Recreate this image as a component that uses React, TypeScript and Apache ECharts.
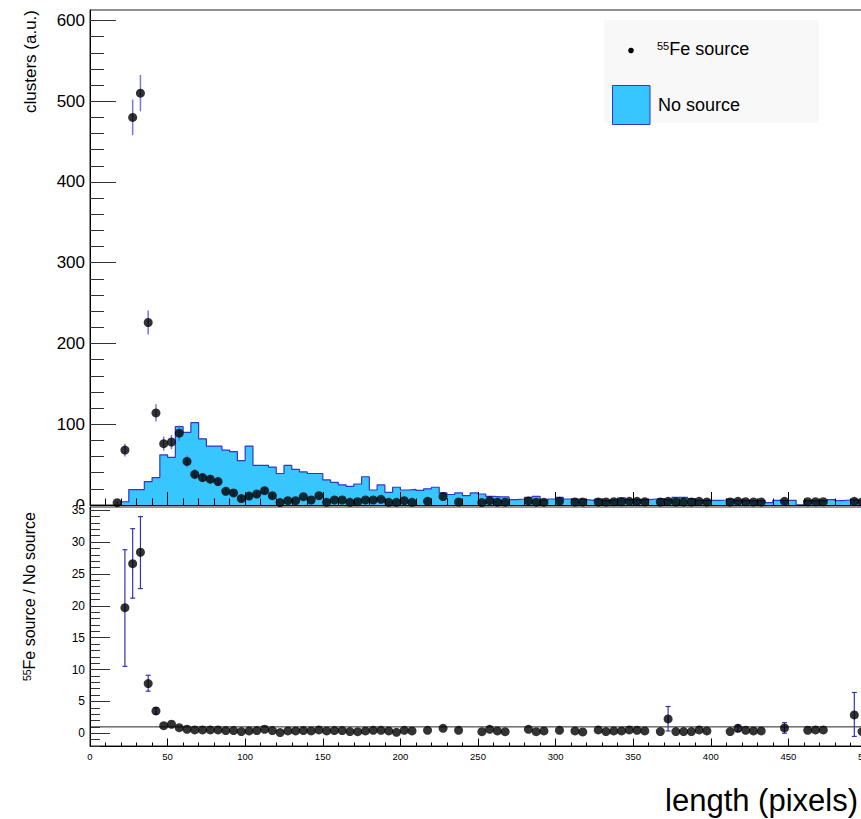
import React, { useEffect, useRef } from 'react';
import * as echarts from 'echarts';

// ---------------- data ----------------
// "No source" histogram: bins of width 5, first bin starts at 20
const histFirstEdge = 20;
const histBinWidth = 5;
const noSourceCounts = [
  4, 19, 19, 29, 34, 62, 59, 97, 90, 102, 82, 73, 73, 68, 66, 55, 73, 49, 49, 47,
  39, 49, 44, 41, 39, 39, 31, 28, 25, 23, 26, 35, 18.6, 24.8, 15.7, 22, 18.6, 19.4, 18, 20,
  22, 15, 13, 15, 11.5, 15, 13.6, 10.7, 10, 10, 6.6, 7.4, 9.4, 10.7, 5.8, 7.4, 9.4, 7.4, 7.4, 6.6,
  5.8, 7.4, 5.8, 6.6, 8.7, 6.6, 6.6, 6.6, 7.4, 7.8, 6.6, 9.5, 9.5, 7.8, 5.8, 5.8, 5.8, 6.2, 7.4, 5.8,
  5.4, 5.4, 5.4, 2.9, 5.8, 5.8, 5.8, 0, 5.4, 5.4, 5.4, 6.6, 5.4, 6.2, 6.6, 5.4,
];

// "55Fe source" points (bin centres and contents)
const fePointX = [
  17.5, 22.5, 27.5, 32.5, 37.5, 42.5, 47.5, 52.5, 57.5, 62.5, 67.5, 72.5, 77.5, 82.5, 87.5, 92.5,
  97.5, 102.5, 107.5, 112.5, 117.5, 122.5, 127.5, 132.5, 137.5, 142.5, 147.5, 152.5, 157.5, 162.5,
  167.5, 172.5, 177.5, 182.5, 187.5, 192.5, 197.5, 202.5, 207.5, 217.5, 227.5, 237.5, 252.5, 257.5,
  262.5, 267.5, 282.5, 287.5, 292.5, 302.5, 312.5, 317.5, 327.5, 332.5, 337.5, 342.5, 347.5, 352.5,
  357.5, 367.5, 372.5, 377.5, 382.5, 387.5, 392.5, 397.5, 412.5, 417.5, 422.5, 427.5, 432.5, 447.5,
  462.5, 467.5, 472.5, 492.5, 497.5,
];
const fePointY = [
  2.9, 68, 480, 510, 226, 114, 76, 78, 89, 54, 38, 34, 32, 29, 17, 15, 8, 11, 13.6, 17.7,
  11.5, 3, 5.4, 5.4, 10.3, 6.2, 11.6, 3.3, 6.2, 6.2, 3.3, 4.1, 6.2, 6.2, 7, 3.3, 3.3, 5.4, 3.3,
  4.5, 10.5, 3.7, 3, 5.4, 3.5, 3.5, 5, 3.5, 3.5, 4.5, 3.7, 3.7, 3.7, 3.7, 4, 4, 4.5, 4.5, 4,
  3.7, 4.5, 3.7, 3.7, 3.7, 4.5, 3.7, 3.7, 4.5, 4, 3.7, 3.7, 4.5, 4, 4, 4, 4.5, 3.7,
];
// error half-widths of the first points (further ones are hidden by the markers)
const feErr = [
  1.7, 8, 22, 22.5, 15, 10.7, 8.7, 8.8, 9.4, 7.3, 6.2, 5.8, 5.7, 5.4, 4.1, 3.9, 2.8, 3.3, 3.7, 4.2, 3.4,
];

// ratio "55Fe source / No source"
const ratioX = [
  22.5, 27.5, 32.5, 37.5, 42.5, 47.5, 52.5, 57.5, 62.5, 67.5, 72.5, 77.5, 82.5, 87.5, 92.5,
  97.5, 102.5, 107.5, 112.5, 117.5, 122.5, 127.5, 132.5, 137.5, 142.5, 147.5, 152.5, 157.5, 162.5,
  167.5, 172.5, 177.5, 182.5, 187.5, 192.5, 197.5, 202.5, 207.5, 217.5, 227.5, 237.5, 252.5, 257.5,
  262.5, 267.5, 282.5, 287.5, 292.5, 302.5, 312.5, 317.5, 327.5, 332.5, 337.5, 342.5, 347.5, 352.5,
  357.5, 367.5, 372.5, 377.5, 382.5, 387.5, 392.5, 397.5, 412.5, 417.5, 422.5, 427.5, 432.5, 447.5,
  462.5, 467.5, 472.5, 492.5, 497.5,
];
const ratioY = [
  19.7, 26.6, 28.4, 7.8, 3.5, 1.19, 1.41, 0.88, 0.63, 0.52, 0.52, 0.52, 0.52, 0.42, 0.42,
  0.26, 0.36, 0.42, 0.63, 0.42, 0.1, 0.36, 0.36, 0.42, 0.36, 0.52, 0.36, 0.42, 0.42,
  0.26, 0.25, 0.36, 0.46, 0.46, 0.36, 0.15, 0.46, 0.36, 0.46, 0.77, 0.46, 0.25, 0.62,
  0.36, 0.25, 0.62, 0.25, 0.36, 0.46, 0.36, 0.21, 0.52, 0.26, 0.36, 0.36, 0.52, 0.47,
  0.36, 0.26, 2.24, 0.26, 0.26, 0.26, 0.52, 0.36, 0.26, 0.78, 0.47, 0.36, 0.36, 0.83,
  0.47, 0.52, 0.52, 2.87, 0.26,
];
// visible ratio error bars
const ratioErrX = [22.5, 27.5, 32.5, 37.5, 42.5, 372.5, 417.5, 447.5, 492.5];
const ratioErrLow = [10.5, 21.2, 22.7, 6.6, 3.0, 0.36, 0.28, 0.0, -0.5];
const ratioErrHigh = [28.8, 32.1, 34.0, 9.1, 4.0, 4.2, 1.3, 1.66, 6.4];

// tick labels
const xTickLabels = [0, 50, 100, 150, 200, 250, 300, 350, 400, 450, 500];
const topYTickLabels = [0, 100, 200, 300, 400, 500, 600];
const ratioYTickLabels = [0, 5, 10, 15, 20, 25, 30, 35];

// ---------------- styles ----------------
const FONT = '"Liberation Sans", Arial, Helvetica, sans-serif';
const FILL = '#37c6fd';
const EDGE = '#3535c8';

export default function App() {
  const ref = useRef<HTMLDivElement>(null);

  useEffect(() => {
    if (!ref.current) return;
    const chart = echarts.init(ref.current, undefined, { renderer: 'svg' });

    const histLine: number[][] = [[histFirstEdge, 0]];
    noSourceCounts.forEach((v, i) => histLine.push([histFirstEdge + i * histBinWidth, v]));
    histLine.push([
      histFirstEdge + noSourceCounts.length * histBinWidth,
      noSourceCounts[noSourceCounts.length - 1],
    ]);

    const fePoints = fePointX.map((x, i) => [x, fePointY[i]]);
    const feErrData = feErr.map((e, i) => [fePointX[i], fePointY[i] - e, fePointY[i] + e]);
    const ratioPoints = ratioX.map((x, i) => [x, ratioY[i]]);
    const ratioErrData = ratioErrX.map((x, i) => [x, ratioErrLow[i], ratioErrHigh[i]]);

    const topMinor: number[] = [];
    for (let v = 20; v <= 600; v += 20) if (v % 100 !== 0) topMinor.push(v);
    const botMinor: number[] = [];
    for (let v = -2; v <= 35; v += 1) if (v % 5 !== 0) botMinor.push(v);

    const errRender = (cap: number, color: string, width: number) => (params: any, api: any) => {
      const x = api.value(0);
      const a = api.coord([x, api.value(1)]);
      const b = api.coord([x, api.value(2)]);
      const st = { stroke: color, lineWidth: width };
      const children: any[] = [
        { type: 'line', shape: { x1: a[0], y1: a[1], x2: b[0], y2: b[1] }, style: st },
      ];
      if (cap > 0) {
        children.push({ type: 'line', shape: { x1: a[0] - cap, y1: a[1], x2: a[0] + cap, y2: a[1] }, style: st });
        children.push({ type: 'line', shape: { x1: b[0] - cap, y1: b[1], x2: b[0] + cap, y2: b[1] }, style: st });
      }
      return { type: 'group', children };
    };

    const gTop = { left: 90, right: -36, top: 10, height: 495 };
    const gBot = { left: 90, right: -36, top: 507, height: 239 };
    const xBase = { type: 'value', min: 0, max: 520 };

    const option: any = {
      animation: false,
      textStyle: { fontFamily: FONT, color: '#000' },
      grid: [
        { ...gTop, show: true, borderColor: '#222', borderWidth: 1, backgroundColor: 'transparent', outerBoundsMode: 'none' },
        { ...gBot, show: true, borderColor: '#222', borderWidth: 1, backgroundColor: 'transparent', outerBoundsMode: 'none' },
        { ...gTop, show: false, outerBoundsMode: 'none' },
        { ...gBot, show: false, outerBoundsMode: 'none' },
      ],
      xAxis: [
        {
          ...xBase, gridIndex: 0, interval: 50, z: 10,
          axisLine: { show: true, onZero: false, lineStyle: { color: '#000', width: 1 } },
          axisTick: { show: true, inside: true, length: 13, lineStyle: { color: '#000', width: 1 } },
          minorTick: { show: true, splitNumber: 5, length: 6.5, lineStyle: { color: '#000', width: 1 } },
          axisLabel: { show: false },
          splitLine: { show: false },
          minorSplitLine: { show: false },
        },
        {
          ...xBase, gridIndex: 1, interval: 50, z: 10,
          axisLine: { show: true, onZero: false, lineStyle: { color: '#000', width: 1 } },
          axisTick: { show: true, inside: true, length: 7.5, lineStyle: { color: '#000', width: 1 } },
          minorTick: { show: true, splitNumber: 5, length: 3.5, lineStyle: { color: '#000', width: 1 } },
          axisLabel: {
            show: true, customValues: xTickLabels, fontSize: 9.5, margin: 5, color: '#000', fontFamily: FONT,
          },
          splitLine: { show: false },
          minorSplitLine: { show: false },
        },
        { ...xBase, gridIndex: 2, show: false },
        { ...xBase, gridIndex: 3, show: false },
      ],
      yAxis: [
        {
          type: 'value', gridIndex: 0, min: 0, max: 613, z: 1,
          axisLine: { show: true, onZero: false, lineStyle: { color: '#000', width: 1 } },
          axisTick: { show: true, inside: true, length: 26, customValues: topYTickLabels, lineStyle: { color: '#333', width: 1 } },
          axisLabel: { show: true, customValues: topYTickLabels, fontSize: 17, margin: 5, color: '#000', fontFamily: FONT },
          splitLine: { show: false },
        },
        {
          type: 'value', gridIndex: 1, min: -2, max: 35.5, z: 12,
          axisLine: { show: true, onZero: false, lineStyle: { color: '#000', width: 1 } },
          axisTick: { show: true, inside: true, length: 20, customValues: ratioYTickLabels, lineStyle: { color: '#333', width: 1 } },
          axisLabel: { show: true, customValues: ratioYTickLabels, fontSize: 12, margin: 5, color: '#000', fontFamily: FONT },
          splitLine: { show: false },
        },
        {
          type: 'value', gridIndex: 2, min: 0, max: 613, z: 10,
          axisLine: { show: false },
          axisTick: { show: true, inside: true, length: 14, customValues: topMinor, lineStyle: { color: '#333', width: 1 } },
          axisLabel: { show: false },
          splitLine: { show: false },
        },
        {
          type: 'value', gridIndex: 3, min: -2, max: 35.5, z: 10,
          axisLine: { show: false },
          axisTick: { show: true, inside: true, length: 10, customValues: botMinor, lineStyle: { color: '#333', width: 1 } },
          axisLabel: { show: false },
          splitLine: { show: false },
        },
      ],
      series: [
        {
          name: 'No source', type: 'line', xAxisIndex: 0, yAxisIndex: 0, step: 'end',
          data: histLine, showSymbol: false, symbol: 'none', silent: true, z: 2,
          lineStyle: { color: EDGE, width: 1.2 },
          areaStyle: { color: FILL, opacity: 1 },
        },
        {
          name: 'feErr', type: 'custom', xAxisIndex: 0, yAxisIndex: 0, z: 3, silent: true,
          encode: { x: 0, y: [1, 2] },
          renderItem: errRender(0, 'rgba(96,96,210,0.85)', 1.5),
          data: feErrData,
        },
        {
          name: '55Fe source', type: 'scatter', xAxisIndex: 0, yAxisIndex: 0, z: 4, silent: true,
          symbol: 'circle', symbolSize: 9, itemStyle: { color: '#000' },
          data: fePoints,
        },
        {
          name: 'unity', type: 'line', xAxisIndex: 1, yAxisIndex: 1, z: 2, silent: true,
          data: [[0, 1], [520, 1]], showSymbol: false, symbol: 'none',
          lineStyle: { color: '#222', width: 1 },
        },
        {
          name: 'ratioErr', type: 'custom', xAxisIndex: 1, yAxisIndex: 1, z: 3, silent: true,
          encode: { x: 0, y: [1, 2] },
          renderItem: errRender(2.5, '#3434b8', 1.2),
          data: ratioErrData,
        },
        {
          name: 'ratio', type: 'scatter', xAxisIndex: 1, yAxisIndex: 1, z: 4, silent: true,
          symbol: 'circle', symbolSize: 9, itemStyle: { color: '#000' },
          data: ratioPoints,
        },
      ],
      graphic: [
        // bottom pad hides the lower part of the top pad's "0" label
        { type: 'rect', z: 5, silent: true, shape: { x: 40, y: 506, width: 49, height: 14 }, style: { fill: '#fff' } },
        // legend
        { type: 'rect', z: 20, silent: true, shape: { x: 604, y: 20, width: 215, height: 103 }, style: { fill: '#f8f8f8' } },
        { type: 'circle', z: 21, silent: true, shape: { cx: 631, cy: 50.5, r: 2.8 }, style: { fill: '#000' } },
        {
          type: 'text', z: 21, silent: true, x: 657, y: 49,
          style: {
            text: '{sup|55}{n|Fe source}', verticalAlign: 'middle', align: 'left',
            rich: {
              sup: { fontSize: 11, fontFamily: FONT, fill: '#000', verticalAlign: 'top', padding: [0, 0, 4, 0] },
              n: { fontSize: 18, fontFamily: FONT, fill: '#000' },
            },
          },
        },
        { type: 'rect', z: 21, silent: true, shape: { x: 612.5, y: 85.5, width: 37.5, height: 39 }, style: { fill: FILL, stroke: EDGE, lineWidth: 1 } },
        {
          type: 'text', z: 21, silent: true, x: 658, y: 104.5,
          style: { text: 'No source', fontSize: 18, fontFamily: FONT, fill: '#000', verticalAlign: 'middle', align: 'left' },
        },
        // axis titles
        {
          type: 'text', z: 21, silent: true, x: 30, y: 10, rotation: Math.PI / 2,
          style: { text: 'clusters (a.u.)', fontSize: 17, fontFamily: FONT, fill: '#000', align: 'right', verticalAlign: 'middle' },
        },
        {
          type: 'text', z: 21, silent: true, x: 29, y: 512, rotation: Math.PI / 2,
          style: {
            text: '{sup|55}{n|Fe source / No source}', align: 'right', verticalAlign: 'middle',
            rich: {
              sup: { fontSize: 10.5, fontFamily: FONT, fill: '#000', verticalAlign: 'top', padding: [0, 0, 4, 0] },
              n: { fontSize: 16, fontFamily: FONT, fill: '#000' },
            },
          },
        },
        {
          type: 'text', z: 21, silent: true, x: 858, y: 800,
          style: { text: 'length (pixels)', fontSize: 31, fontFamily: FONT, fill: '#000', align: 'right', verticalAlign: 'middle' },
        },
      ],
    };

    chart.setOption(option);
    return () => chart.dispose();
  }, []);

  return (
    <div
      ref={ref}
      style={{ position: 'fixed', left: 0, top: 0, width: 861, height: 819, background: '#fff' }}
    />
  );
}
